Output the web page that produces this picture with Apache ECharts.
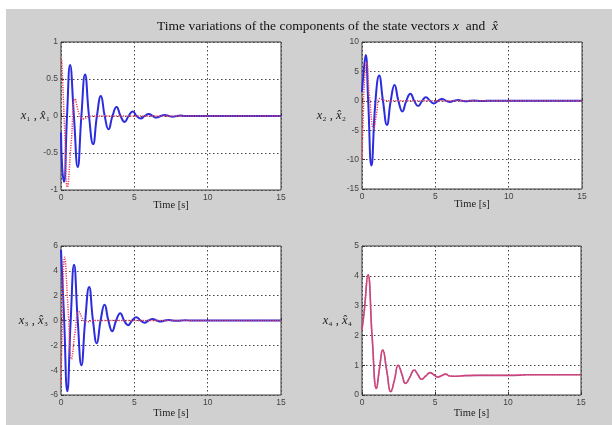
<!DOCTYPE html>
<html><head><meta charset="utf-8">
<script src="https://cdn.jsdelivr.net/npm/echarts@6/dist/echarts.min.js"></script>
<style>html,body{margin:0;padding:0;background:#fff}#c{width:612px;height:425px}</style>
</head><body><div id="c"></div>
<script>
// ---- data: [time (s), value] ----
var x1 = [[0,-0.22],[0.08,-0.7],[0.2,-0.89],[0.41,0],[0.62,0.69],[0.88,0],[1.14,-0.69],[1.39,0],[1.64,0.56],[1.91,0],[2.19,-0.38],[2.45,0],[2.72,0.27],[2.98,0],[3.24,-0.18],[3.51,0],[3.79,0.12],[4.06,0],[4.34,-0.08],[4.61,0],[4.89,0.06],[5.16,0],[5.43,-0.035],[5.7,0],[5.98,0.027],[6.25,0],[6.52,-0.02],[6.8,0],[7.07,0.015],[7.35,0],[7.62,-0.01],[7.9,0],[8.17,0.008],[8.4,0],[15,0]];
var xhat1 = [[0,0.78],[0.05,0.75],[0.25,-0.2],[0.43,-0.96],[0.7,-0.35],[0.96,0.23],[1.25,0.02],[1.5,-0.04],[2.0,0],[15,0]];
var x2 = [[0,1.5],[0.08,4],[0.25,7.8],[0.42,0],[0.64,-11],[0.92,0],[1.17,4.3],[1.43,0],[1.7,-4.1],[1.96,0],[2.22,2.7],[2.48,0],[2.75,-1.8],[3.02,0],[3.3,1.2],[3.56,0],[3.83,-0.9],[4.1,0],[4.36,0.6],[4.63,0],[4.9,-0.45],[5.18,0],[5.46,0.3],[5.73,0],[6.0,-0.2],[6.27,0],[6.55,0.13],[6.82,0],[7.1,-0.08],[7.37,0],[7.65,0.05],[7.9,0],[8.2,-0.03],[8.5,0],[15,0]];
var xhat2 = [[0,-10],[0.08,-3],[0.18,4],[0.32,6.5],[0.5,1],[0.8,-4.7],[1.0,-2],[1.2,0.4],[1.5,0.1],[2.0,0],[15,0]];
var x3 = [[0,5.7],[0.2,0.5],[0.43,-5.7],[0.66,0],[0.89,4.5],[1.14,0],[1.39,-3.6],[1.65,0],[1.92,2.7],[2.18,0],[2.44,-1.83],[2.7,0],[2.97,1.26],[3.23,0],[3.49,-0.86],[3.76,0],[4.04,0.59],[4.3,0],[4.57,-0.38],[4.85,0],[5.14,0.27],[5.42,0],[5.7,-0.18],[5.97,0],[6.25,0.12],[6.52,0],[6.8,-0.08],[7.07,0],[7.35,0.05],[7.62,0],[7.9,-0.03],[8.2,0],[8.5,0.02],[8.8,0],[15,0]];
var xhat3 = [[0,-5.2],[0.1,0],[0.25,5.1],[0.48,1],[0.72,-3.1],[0.95,-1],[1.23,0.7],[1.5,0.1],[1.75,-0.1],[2.2,0],[15,0]];
var x4 = [[0,2.2],[0.15,2.8],[0.41,4.03],[0.7,1.9],[0.99,0.22],[1.2,0.9],[1.42,1.51],[1.7,0.8],[1.97,0.11],[2.22,0.5],[2.48,1.0],[2.73,0.7],[2.98,0.39],[3.28,0.6],[3.58,0.84],[3.83,0.68],[4.08,0.53],[4.37,0.64],[4.66,0.75],[4.92,0.68],[5.18,0.6],[5.45,0.65],[5.73,0.7],[6.0,0.64],[6.4,0.63],[7,0.65],[8,0.66],[10,0.66],[11,0.67],[11.2,0.68],[15,0.68]];
var xhat4 = [[0,2.2],[0.15,2.8],[0.41,4.03],[0.7,1.9],[0.99,0.22],[1.2,0.9],[1.42,1.51],[1.7,0.8],[1.97,0.11],[2.22,0.5],[2.48,1.0],[2.73,0.7],[2.98,0.39],[3.28,0.6],[3.58,0.84],[3.83,0.68],[4.08,0.53],[4.37,0.64],[4.66,0.75],[4.92,0.68],[5.18,0.6],[5.45,0.65],[5.73,0.7],[6.0,0.64],[6.4,0.63],[7,0.65],[8,0.66],[10,0.66],[11,0.67],[11.2,0.68],[15,0.68]];

var xTicks = {min:0, max:15, interval:5};
var yRanges = [{min:-1,max:1,interval:0.5},{min:-15,max:10,interval:5},{min:-6,max:6,interval:2},{min:0,max:5,interval:1}];
var subs = ['\u2081','\u2082','\u2083','\u2084'];
var titleText = 'Time variations of the components of the state vectors ';
var xLabel = 'Time [s]';

var serif = 'Liberation Serif';
var grids = [
  {left:61, top:42, width:220, height:148},
  {left:362, top:42, width:220, height:147},
  {left:61, top:246, width:220, height:149},
  {left:362, top:246, width:219, height:149}
];
var nameGaps = [11, 16, 13, 10];
var xNameGaps = [10, 10, 13, 13];
var blues = [x1,x2,x3,x4], reds = [xhat1,xhat2,xhat3,xhat4];

var option = {
  backgroundColor:'#ffffff',
  animation:false,
  graphic:[{type:'rect', shape:{x:6,y:9,width:606,height:416}, style:{fill:'#d0d0d0'}, z:-10, silent:true}],
  title:{
    text:'{n|'+titleText+'}{i|x}{n|  and  }{i|x\u0302}',
    left:152, top:14,
    textStyle:{fontWeight:'normal', rich:{
      n:{fontFamily:serif, fontSize:13.5, fontWeight:'normal', color:'#111'},
      i:{fontFamily:serif, fontSize:13.5, fontStyle:'italic', fontWeight:'normal', color:'#111'}
    }}
  },
  grid: grids.map(function(g){return Object.assign({show:true, backgroundColor:'#fff', borderColor:'#3a3a3a', borderWidth:1, containLabel:false}, g);}),
  xAxis: grids.map(function(g,i){return {
    type:'value', gridIndex:i, min:xTicks.min, max:xTicks.max, interval:xTicks.interval,
    name:xLabel, nameLocation:'middle', nameGap:xNameGaps[i], nameMoveOverlap:false,
    nameTextStyle:{fontFamily:serif, fontSize:10.5, color:'#222'},
    axisLine:{show:false}, axisTick:{show:true, inside:true, length:3, lineStyle:{color:'#333'}},
    axisLabel:{fontFamily:'Liberation Sans', fontSize:8.5, color:'#444', margin:3},
    splitLine:{show:true, lineStyle:{type:[1.5,2.5], color:'#444', width:1}}
  };}),
  yAxis: grids.map(function(g,i){return {
    type:'value', gridIndex:i, min:yRanges[i].min, max:yRanges[i].max, interval:yRanges[i].interval,
    name:'{i|x}{n|'+subs[i]+' , }{i|x\u0302}{n|'+subs[i]+'}', nameLocation:'middle', nameRotate:0, nameGap:nameGaps[i], nameMoveOverlap:false,
    nameTextStyle:{rich:{
      i:{fontFamily:serif, fontSize:12.5, fontStyle:'italic', color:'#222'},
      n:{fontFamily:serif, fontSize:12.5, color:'#222'}
    }},
    axisLine:{show:false}, axisTick:{show:true, inside:true, length:3, lineStyle:{color:'#333'}},
    axisLabel:{fontFamily:'Liberation Sans', fontSize:8.5, color:'#444', margin:3},
    splitLine:{show:true, lineStyle:{type:[1.5,2.5], color:'#444', width:1}}
  };}),
  series: []
};
for (var i=0;i<4;i++){
  option.series.push({type:'line', xAxisIndex:i, yAxisIndex:i, data:blues[i], smooth:0.5, showSymbol:false,
    lineStyle:{color: i===3 ? '#b04a9a' : '#2b2bdf', width: i===3 ? 1.6 : 2}, z:2});
  option.series.push({type:'line', xAxisIndex:i, yAxisIndex:i, data:reds[i], smooth:0.5, showSymbol:false,
    lineStyle:{color:'#e8405a', width:1.5, type:[1.2,1.2]}, z:3});
}
var chart = echarts.init(document.getElementById('c'), null, {renderer:'canvas'});
chart.setOption(option);
</script></body></html>
